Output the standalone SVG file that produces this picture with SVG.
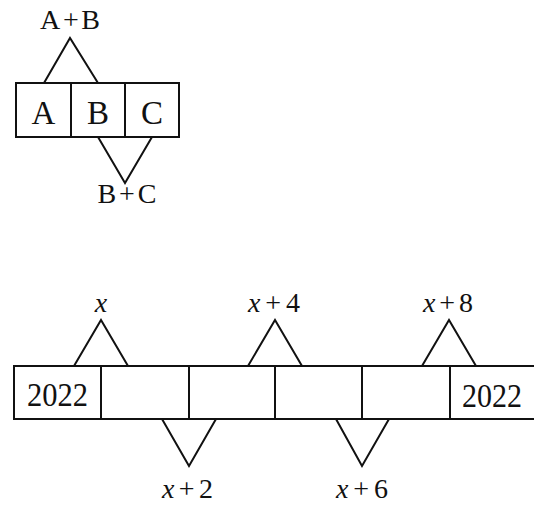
<svg xmlns="http://www.w3.org/2000/svg" width="534" height="505" viewBox="0 0 534 505">
<style>
.ln{fill:none;stroke:#111;stroke-width:2;stroke-linejoin:miter}
.bx{fill:#fff;stroke:#111;stroke-width:2}
.t{font-family:"Liberation Serif","Times New Roman",serif;fill:#111;text-anchor:middle}
.lab{font-size:28px}
.big{font-size:33px}
.i{font-style:italic}
</style>
<rect width="534" height="505" fill="#fff"/>
<g id="top-diagram">
  <g id="box-A"><rect class="bx" x="16" y="83" width="55" height="54"/><text class="t big" x="43.5" y="124">A</text></g>
  <g id="box-B"><rect class="bx" x="71" y="83" width="54" height="54"/><text class="t big" x="98" y="124">B</text></g>
  <g id="box-C"><rect class="bx" x="125" y="83" width="54" height="54"/><text class="t big" x="152" y="124">C</text></g>
  <g id="label-AB"><text class="t lab" x="70" y="29" textLength="60" lengthAdjust="spacing">A+B</text></g>
  <g id="label-BC"><text class="t lab" x="127" y="203" textLength="59" lengthAdjust="spacing">B+C</text></g>
</g>
<g id="bottom-diagram">
  <g id="strip">
    <rect class="bx" x="14" y="366" width="524" height="53"/>
    <line class="ln" x1="101" y1="366" x2="101" y2="419"/>
    <line class="ln" x1="189" y1="366" x2="189" y2="419"/>
    <line class="ln" x1="275" y1="366" x2="275" y2="419"/>
    <line class="ln" x1="362" y1="366" x2="362" y2="419"/>
    <line class="ln" x1="450" y1="366" x2="450" y2="419"/>
  </g>
  <g id="cell-2022-left"><text class="t big" x="57.5" y="406" textLength="61" lengthAdjust="spacingAndGlyphs">2022</text></g>
  <g id="cell-2022-right"><text class="t big" x="492" y="407" textLength="60" lengthAdjust="spacingAndGlyphs">2022</text></g>
  <g id="label-x"><text class="t lab i" x="101" y="312">x</text></g>
  <g id="label-x4"><text class="t lab" x="274" y="312" textLength="52" lengthAdjust="spacing"><tspan class="i">x</tspan>+4</text></g>
  <g id="label-x8"><text class="t lab" x="448" y="312" textLength="50" lengthAdjust="spacing"><tspan class="i">x</tspan>+8</text></g>
  <g id="label-x2"><text class="t lab" x="187.5" y="498" textLength="51" lengthAdjust="spacing"><tspan class="i">x</tspan>+2</text></g>
  <g id="label-x6"><text class="t lab" x="362" y="498" textLength="52" lengthAdjust="spacing"><tspan class="i">x</tspan>+6</text></g>
</g>
<g id="connectors">
  <polyline class="ln" points="44,83 70,38 98,83"/>
  <polyline class="ln" points="98,137 125,183 152,137"/>
  <polyline class="ln" points="74,366 101,320 128,366"/>
  <polyline class="ln" points="248,366 275,320 302,366"/>
  <polyline class="ln" points="422,366 449,320 476,366"/>
  <polyline class="ln" points="162,419 189,466 216,419"/>
  <polyline class="ln" points="336,419 362,466 389,419"/>
</g>
</svg>
